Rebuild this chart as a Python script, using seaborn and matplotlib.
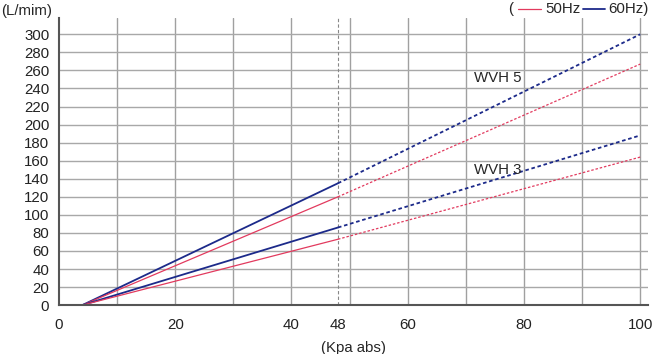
import pandas as pd
import numpy as np
import matplotlib
matplotlib.use("Agg")
import matplotlib.pyplot as plt
import seaborn as sns

sns.set_style("white")
plt.rcParams['font.family'] = ['Liberation Sans', 'DejaVu Sans']

# Data (pressure Kpa abs -> flow L/min)
pressure = [4, 48, 100]
wvh5_60hz = [0, 135, 300]
wvh5_50hz = [0, 120, 267]
wvh3_60hz = [0, 86, 188]
wvh3_50hz = [0, 73, 164]

x_ticks = [0, 20, 40, 48, 60, 80, 100]
y_ticks = list(range(0, 301, 20))

C50 = '#e23a5e'
C60 = '#1c2a8a'
FS = 10.8

series = [
    ('WVH 5', '60Hz', wvh5_60hz, C60, 1.3),
    ('WVH 5', '50Hz', wvh5_50hz, C50, 0.9),
    ('WVH 3', '60Hz', wvh3_60hz, C60, 1.3),
    ('WVH 3', '50Hz', wvh3_50hz, C50, 0.9),
]

fig = plt.figure(figsize=(6.57, 3.54), dpi=100)
ax = fig.add_axes([0.0898, 0.138, 0.897, 0.811])

for model, hz, vals, col, lw in series:
    solid = pd.DataFrame({'x': pressure[:2], 'y': vals[:2]})
    dotted = pd.DataFrame({'x': pressure[1:], 'y': vals[1:]})
    sns.lineplot(data=solid, x='x', y='y', color=col, lw=lw, ax=ax)
    sns.lineplot(data=dotted, x='x', y='y', color=col, lw=lw, ax=ax,
                 linestyle=(0, (2, 1.5)))

# grid every 10 on x, every 20 on y
for gx in range(10, 101, 10):
    ax.axvline(gx, color='#a0a0a0', lw=1.0, zorder=0)
for gy in y_ticks[1:]:
    ax.axhline(gy, color='#a8a8a8', lw=1.0, zorder=0)
ax.axvline(48, color='#888888', lw=0.8, ls=(0, (3, 2)), zorder=0)

ax.set_xlim(0, 101.4)
ax.set_ylim(0, 318)
ax.set_xticks(x_ticks)
ax.set_yticks(y_ticks)
ax.tick_params(axis='y', length=0, labelsize=FS, colors='#222222', pad=7)
ax.tick_params(axis='x', length=0, labelsize=FS, colors='#222222', pad=9)
ax.set_xlabel('(Kpa abs)', fontsize=FS, labelpad=7)
ax.set_ylabel('')

for s in ['top', 'right']:
    ax.spines[s].set_visible(False)
for s in ['left', 'bottom']:
    ax.spines[s].set_color('#555555')
    ax.spines[s].set_linewidth(1.5)

ax.text(71.4, 252, 'WVH 5', fontsize=FS, va='center')
ax.text(71.4, 150, 'WVH 3', fontsize=FS, va='center')

fig.text(0.002, 0.97, '(L/mim)', fontsize=FS, va='center', ha='left')

# legend text at top right
fig.text(0.774, 0.975, '(', fontsize=FS, va='center')
fig.add_artist(plt.Line2D([0.789, 0.823], [0.975, 0.975], color=C50, lw=0.9,
                          transform=fig.transFigure))
fig.text(0.830, 0.975, '50Hz', fontsize=FS, va='center')
fig.add_artist(plt.Line2D([0.887, 0.921], [0.975, 0.975], color=C60, lw=1.3,
                          transform=fig.transFigure))
fig.text(0.926, 0.975, '60Hz)', fontsize=FS, va='center')

fig.savefig('out.png', dpi=100)
